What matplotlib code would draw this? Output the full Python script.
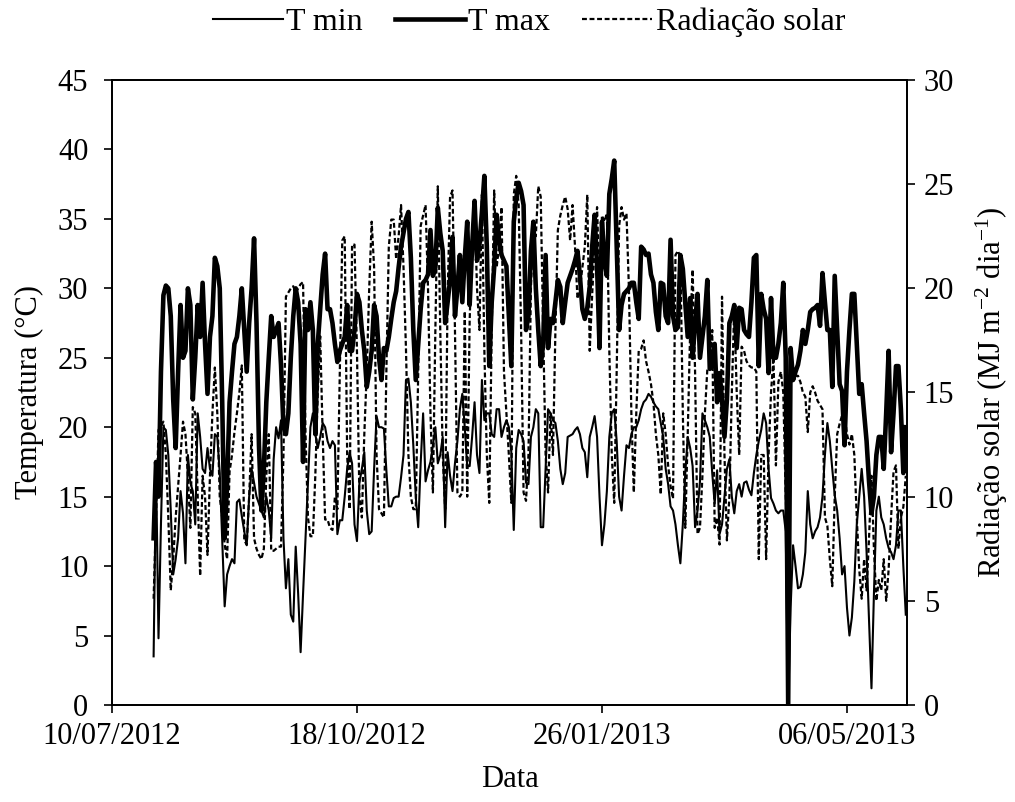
import numpy as np
import pandas as pd
import matplotlib
matplotlib.use("Agg")
import matplotlib.pyplot as plt
import matplotlib.dates as mdates
from matplotlib.lines import Line2D

plt.rcParams['font.family'] = ['Liberation Serif', 'DejaVu Serif']
plt.rcParams['mathtext.fontset'] = 'custom'
plt.rcParams['mathtext.rm'] = 'Liberation Serif'
plt.rcParams['mathtext.it'] = 'Liberation Serif:italic'
plt.rcParams['mathtext.bf'] = 'Liberation Serif:bold'

# Daily series starting 27/07/2012
start_date = "2012-07-27"

t_max = [
    12, 17.5, 15, 24, 29.5, 30.2, 30, 28, 22, 18.5,
    24, 28.8, 25, 25.5, 30, 28.8, 22, 25, 28.8, 26.5,
    30.4, 26, 22.4, 26.5, 28, 32.2, 31.6, 30, 21.8, 12,
    16, 21.8, 24, 26, 26.5, 28, 30, 27, 24, 27.5,
    30, 33.6, 27.5, 18.7, 14, 17, 21.8, 25, 28, 26.5,
    27, 27.5, 24.5, 20, 19.5, 21, 25, 28, 30, 29,
    26, 17.5, 28.5, 27, 29, 27, 19.5, 26, 28.5, 31,
    32.5, 28.5, 28.5, 27.5, 26, 24.7, 25.5, 26, 26.5, 28.8,
    25.5, 25.5, 27, 29.6, 29, 27, 25.5, 22.9, 24, 25.5,
    28.8, 28, 25, 23.4, 25.7, 25.5, 26.5, 27.8, 29, 29.8,
    31.5, 33, 34, 35, 35.5, 32.2, 27, 23.4, 26, 28.5,
    30.4, 30.6, 31, 34.2, 30.9, 31.5, 35.8, 34, 32.7, 27.5,
    29, 30.6, 33.7, 28, 30, 32.4, 29, 32.2, 34.8, 28.8,
    33, 36.3, 32, 33.2, 35.5, 38.1, 33, 24.4, 29, 31.5,
    35.3, 33.5, 32.4, 32, 31.6, 28, 24.4, 34.8, 36.5, 37.6,
    37, 36, 27, 28, 32.7, 34.8, 30, 27, 24.4, 26,
    32.4, 25.7, 27.8, 27.5, 29, 30.6, 30.1, 27.5, 29, 30.4,
    30.9, 31.4, 32, 32.7, 30.9, 28.5, 27.8, 28.6, 30.1, 33,
    35.3, 31.6, 25.7, 34.8, 32, 30.9, 36.8, 37.9, 39.2, 33,
    27, 28.8, 29.6, 29.8, 30, 30.4, 30.4, 29, 27.8, 33,
    32.8, 32.4, 32.5, 31, 30.4, 28.3, 27, 30.4, 30.3, 28,
    27.5, 33.5, 28, 27, 27.2, 32.4, 31.4, 29, 26.5, 29.3,
    25, 27.5, 29.6, 25, 26.5, 28, 30.6, 24.2, 24.4, 26,
    21.8, 23.9, 22, 19.3, 22, 27.5, 28, 28.8, 25.7, 28.6,
    28.5, 27, 26.7, 26.5, 29, 32.2, 32.4, 24.4, 29.6, 28.5,
    27.8, 23.9, 29.3, 25, 25, 26, 27.5, 30.4, 25, 0,
    25.7, 23.4, 24, 24.5, 25.5, 27, 26, 27, 28.3, 28.5,
    28.6, 28.8, 27.3, 31.1, 29, 27, 27, 22.9, 30.9, 27,
    23.1, 22.6, 18.7, 24, 27, 29.6, 29.6, 26, 22.4, 23.1,
    21, 19, 16.1, 13.8, 15, 18, 19.3, 19.3, 17, 21,
    25.5, 18.2, 21, 24.4, 24.4, 21.3, 16.7, 20,
]

t_min = [
    3.5, 17, 4.8, 13, 20, 19.8, 18, 14, 9.4, 10.5,
    12, 15.4, 13.8, 10.2, 18, 16, 15.4, 13, 21, 19.3,
    17, 16.7, 18.5, 17, 16.5, 19.5, 19.3, 16.7, 12, 7.1,
    9.4, 10, 10.5, 10.2, 14.6, 14.8, 13.6, 12.5, 11.5, 15,
    17, 16, 15, 14.5, 14, 13.5, 15, 14, 12, 17.7,
    20, 19.2, 20.5, 12, 8.4, 10.5, 6.5, 6, 11.4, 8,
    3.8, 8, 12, 16, 20, 21, 19.5, 18.5, 19.3, 20.3,
    20, 19, 18.5, 19, 18.7, 12.3, 13.3, 13.3, 15, 17,
    18.2, 17.4, 13, 11.8, 16, 17, 18.2, 14, 12.3, 12.5,
    17, 20.8, 20, 20, 19.9, 16.9, 14.3, 14.3, 14.9, 15,
    15, 16.4, 18, 23.4, 23.5, 21.8, 18.7, 15, 12.8, 17.4,
    21, 16.1, 16.9, 17.5, 18.7, 20, 17.4, 18, 19.3, 12.8,
    18.2, 16.5, 15.4, 17.4, 19, 21.3, 22.4, 20, 17.2, 17.2,
    19.3, 21.8, 18, 16.7, 23.4, 20.5, 21, 21, 19.5, 19.3,
    21.3, 21.3, 19.3, 20, 20.5, 20, 18.2, 12.6, 18.5, 19.8,
    19.5, 19, 16, 15.9, 19.3, 20, 21.3, 21, 12.8, 12.8,
    17, 21.3, 21, 20.5, 20.3, 19, 17, 15.9, 16.7, 19.3,
    19.4, 19.5, 19.8, 20, 19.5, 18.5, 18.2, 16.4, 19.3, 20,
    20.8, 19.3, 15, 11.5, 13, 15.4, 19.3, 21, 21.3, 19,
    15, 14, 16.5, 18.7, 18.5, 19.5, 20, 20, 20.5, 21.3,
    21.8, 22, 22.4, 22.2, 21.8, 21.5, 21.3, 20.3, 19.3, 17,
    15.9, 14.3, 14, 13, 11.5, 10.2, 13, 16.7, 19.3, 18.5,
    17.2, 12.8, 14, 16.1, 21, 20.5, 20, 19.3, 16.7, 14.5,
    16.9, 12.3, 13, 15, 17, 17.7, 15, 13.8, 15.4, 15.9,
    15, 16, 16.1, 15.5, 15.1, 16.7, 18, 19, 19.8, 21,
    20.3, 17, 14.9, 14.5, 14, 13.8, 14, 14, 12.5, 0,
    7, 11.5, 10, 8.4, 8.5, 9.4, 11, 15.4, 13, 12,
    12.5, 12.8, 13.5, 15, 18, 20.3, 19, 17, 15.1, 14,
    12, 9.4, 10, 7, 5, 6.3, 8.9, 13, 15, 17,
    15, 11, 6, 1.2, 8, 14, 15, 13.5, 13, 12,
    11.3, 11, 10.5, 11.5, 14, 14, 10, 6.5,
]

# Solar radiation, MJ m-2 day-1
radiacao = [
    5.1, 9, 13.2, 13.4, 13.6, 12, 9, 5.5, 7, 9,
    10.5, 12, 13.6, 13, 11, 8.5, 14.3, 14, 10, 6.2,
    11, 10, 7.2, 11, 14, 16.2, 14, 10, 9, 7.7,
    7, 11.2, 12, 13.1, 14, 15, 16.3, 7.9, 7.7, 10,
    13, 8, 7.5, 7.2, 7, 7.5, 11, 13, 7.4, 7.4,
    7.5, 7.6, 7.6, 12, 19.6, 19.8, 20, 20.1, 19.8, 20,
    20.2, 20.3, 13, 9, 8.1, 8.1, 11, 15, 17.7, 13,
    8.9, 8.9, 8.5, 8.4, 10, 9.4, 16, 22.3, 22.5, 12,
    9.4, 22.1, 22.1, 17, 10, 9, 13, 16, 20, 23.2,
    21, 12, 9.4, 9.2, 9, 16, 22, 23.3, 23.3, 21.4,
    22.5, 24, 21, 17.1, 12, 10, 9.4, 9.4, 16, 23,
    23.5, 24, 20, 14, 10.2, 18, 24.9, 18, 12, 9.4,
    19.7, 24.4, 24.7, 18, 10.2, 10, 10.2, 18.9, 10, 18.5,
    22, 24, 20, 18, 24.5, 17, 12, 9.7, 18, 24.7,
    21, 22, 23.9, 16, 14, 12, 9.7, 24.5, 25.4, 24,
    18, 10.2, 9.8, 12, 20, 23.2, 22.5, 24.9, 24.4, 18,
    12, 10.2, 14, 12, 18, 22.8, 23.5, 24, 24.4, 23.8,
    22.3, 24, 22, 19.5, 20, 21, 22, 24.5, 17, 19.7,
    22, 23.9, 20, 23.5, 23.2, 23.6, 17, 12, 9.7, 16,
    23, 23.9, 23.3, 23.6, 20, 14, 10.2, 14, 17, 17.1,
    17.5, 16.5, 16, 15.4, 14.5, 13, 12, 10.1, 14, 13,
    11.5, 10.5, 9.9, 21.6, 21.8, 21.5, 14, 8.5, 13, 18,
    20.9, 16, 8.2, 8.5, 11, 14, 16.1, 16.1, 18, 8.5,
    9, 7.7, 19.6, 12, 7.9, 10, 15, 19.1, 15, 12,
    17.2, 17, 16.5, 16.3, 16.2, 16.2, 16, 7, 12, 12,
    7, 12, 15, 16.7, 11.5, 15.5, 16, 15, 10, 7,
    16, 16.2, 15.8, 15.8, 15.5, 15, 14.8, 13.1, 15, 15.3,
    15, 14.6, 14.4, 14.2, 9, 8.6, 7, 5.7, 10, 13,
    13.5, 13.9, 14, 13, 12.5, 13, 12, 9, 6.5, 5.1,
    7, 5.5, 8, 11, 7.5, 5, 6, 5.5, 7, 5,
    6.5, 9, 11.2, 11.5, 7.5, 9, 9.5, 11,
]

tick_dates = ["2012-07-10", "2012-10-18", "2013-01-26", "2013-05-06"]
tick_labels = ["10/07/2012", "18/10/2012", "26/01/2013", "06/05/2013"]


def days(n):
    return pd.date_range(start_date, periods=n, freq="D")


FS = 22
FS_LEG = 23

fig = plt.figure(figsize=(10.15, 8.02), dpi=100)
ax = fig.add_axes([0.1103, 0.121, 0.7833, 0.7792])
ax2 = ax.twinx()

ax.plot(days(len(t_min)), t_min, color="black", lw=1.5, solid_joinstyle="round")
ax.plot(days(len(t_max)), t_max, color="black", lw=3.3, solid_joinstyle="round")
ax2.plot(days(len(radiacao)), radiacao, color="black", lw=1.6,
         linestyle=(0, (2.2, 1.2)))

x0 = pd.Timestamp("2012-07-10")
ax.set_xlim(mdates.date2num(x0), mdates.date2num(x0) + 324.5)
ax.set_xticks(pd.to_datetime(tick_dates))
ax.set_xticklabels(tick_labels)

ax.set_ylim(0, 45)
ax.set_yticks(np.arange(0, 46, 5))
ax2.set_ylim(0, 30)
ax2.set_yticks(np.arange(0, 31, 5))

for a in (ax, ax2):
    a.tick_params(direction="out", length=6, width=1.2, labelsize=FS, pad=6)
    for s in a.spines.values():
        s.set_linewidth(1.3)
ax.tick_params(axis="y", pad=11)

ax.set_xlabel("Data", fontsize=FS, labelpad=10)
ax.set_ylabel("Temperatura (°C)", fontsize=FS, labelpad=10)
ax2.set_ylabel(r"Radiação solar (MJ m$^{-2}$ dia$^{-1}$)", fontsize=FS,
               labelpad=14)

handles = [
    Line2D([], [], color="black", lw=1.5),
    Line2D([], [], color="black", lw=3.3),
    Line2D([], [], color="black", lw=1.6, linestyle=(0, (2.2, 1.2))),
]
fig.legend(handles, ["T min", "T max", "Radiação solar"], loc="center",
           bbox_to_anchor=(0.521, 0.972), ncol=3, frameon=False,
           fontsize=FS_LEG, handlelength=2.2, handletextpad=0.1,
           columnspacing=1.0)

fig.savefig("out.png", dpi=100)
